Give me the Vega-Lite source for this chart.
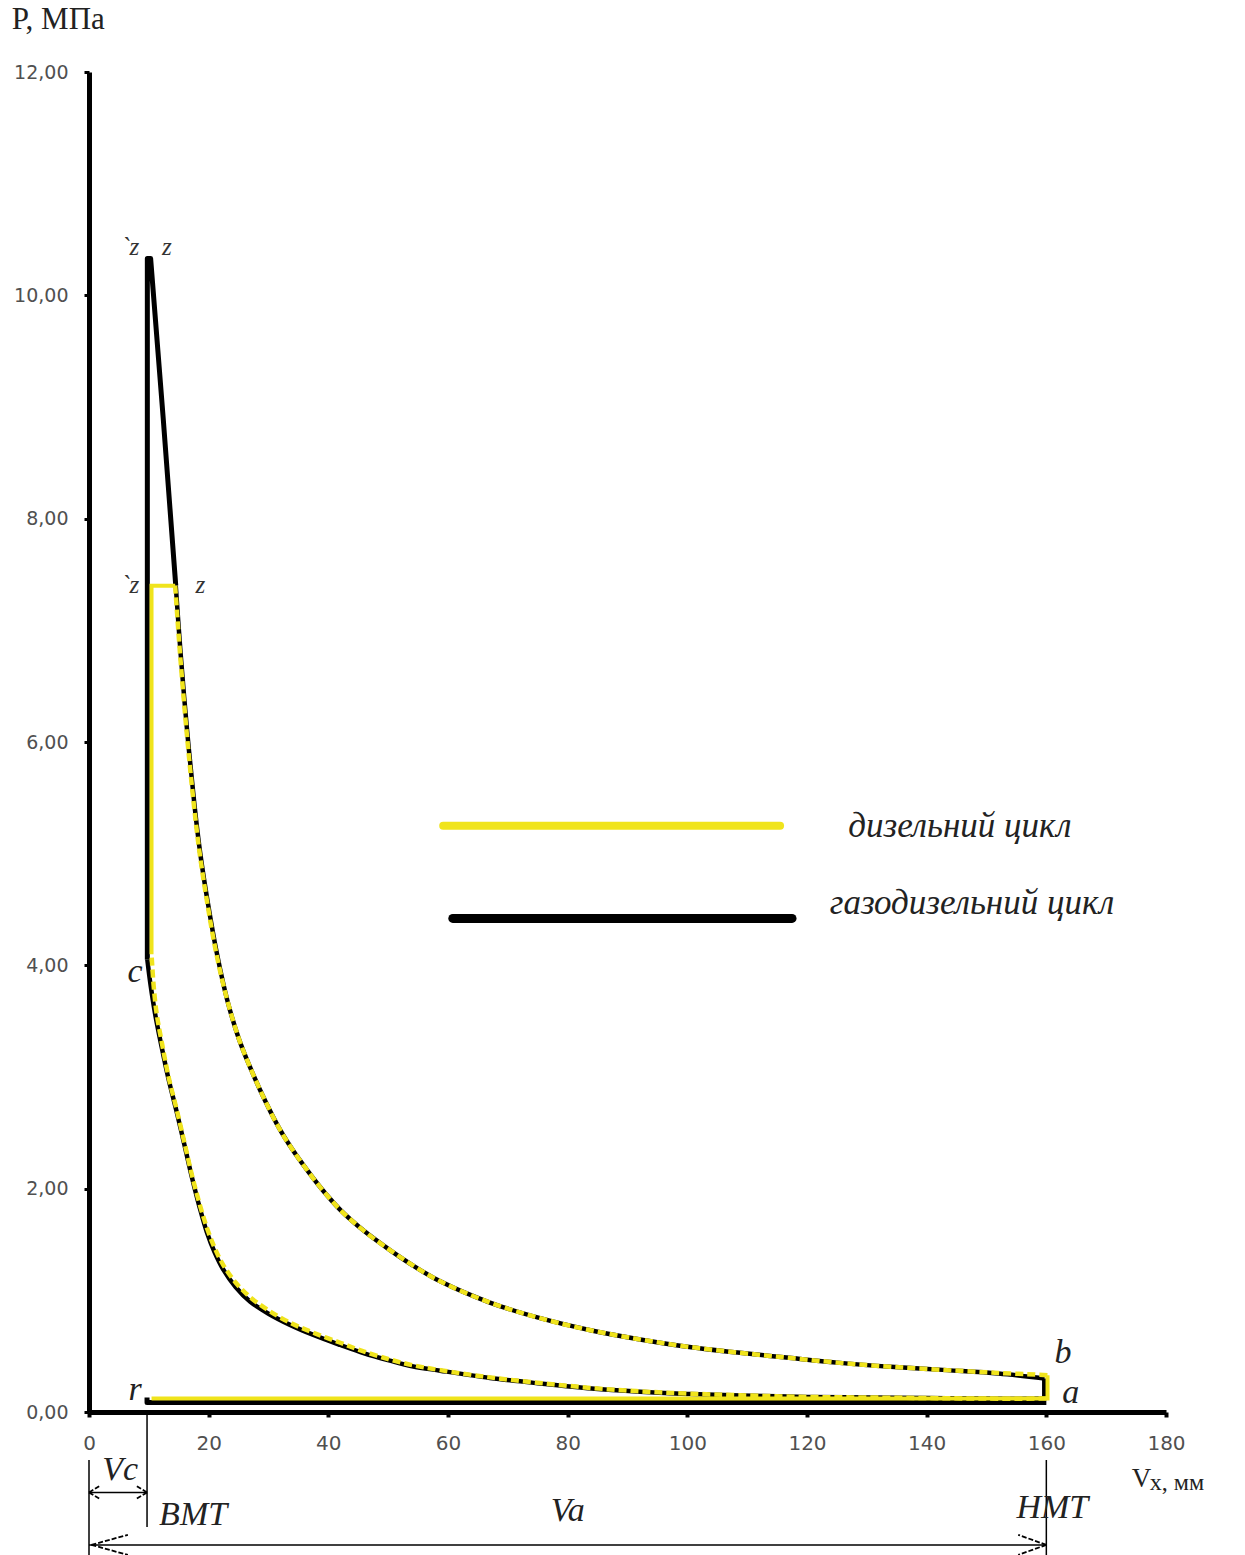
{
  "$schema": "https://vega.github.io/schema/vega-lite/v6.json",
  "width": 1077,
  "height": 1340,
  "autosize": {"type": "none"},
  "padding": {"left": 89, "top": 72, "right": 79, "bottom": 143},
  "background": "white",
  "config": {"view": {"stroke": null}},
  "datasets": {
    "yellowSolid": [
      {"s": "d_rb", "o": 1, "V": 160.2, "P": 0.33},
      {"s": "d_rb", "o": 2, "V": 160.2, "P": 0.12},
      {"s": "d_rb", "o": 3, "V": 10.45, "P": 0.12},
      {"s": "d_cz", "o": 1, "V": 10.45, "P": 4.1},
      {"s": "d_cz", "o": 2, "V": 10.45, "P": 7.4},
      {"s": "d_cz", "o": 3, "V": 14.4, "P": 7.4}
    ],
    "yellowDash": [
      {"s": "d_comp", "o": 1, "V": 160, "P": 0.12},
      {"s": "d_comp", "o": 2, "V": 150, "P": 0.12},
      {"s": "d_comp", "o": 3, "V": 140, "P": 0.125},
      {"s": "d_comp", "o": 4, "V": 130, "P": 0.13},
      {"s": "d_comp", "o": 5, "V": 120, "P": 0.135},
      {"s": "d_comp", "o": 6, "V": 108.8, "P": 0.15},
      {"s": "d_comp", "o": 7, "V": 100, "P": 0.165},
      {"s": "d_comp", "o": 8, "V": 92.1, "P": 0.185},
      {"s": "d_comp", "o": 9, "V": 84, "P": 0.215},
      {"s": "d_comp", "o": 10, "V": 75.4, "P": 0.26},
      {"s": "d_comp", "o": 11, "V": 67, "P": 0.31},
      {"s": "d_comp", "o": 12, "V": 58.7, "P": 0.375},
      {"s": "d_comp", "o": 13, "V": 54, "P": 0.42},
      {"s": "d_comp", "o": 14, "V": 50.3, "P": 0.47},
      {"s": "d_comp", "o": 15, "V": 46, "P": 0.54},
      {"s": "d_comp", "o": 16, "V": 42, "P": 0.62},
      {"s": "d_comp", "o": 17, "V": 37.5, "P": 0.71},
      {"s": "d_comp", "o": 18, "V": 33.6, "P": 0.8},
      {"s": "d_comp", "o": 19, "V": 30, "P": 0.91},
      {"s": "d_comp", "o": 20, "V": 26.9, "P": 1.03},
      {"s": "d_comp", "o": 21, "V": 24.5, "P": 1.16},
      {"s": "d_comp", "o": 22, "V": 22.4, "P": 1.32},
      {"s": "d_comp", "o": 23, "V": 21, "P": 1.47},
      {"s": "d_comp", "o": 24, "V": 19.7, "P": 1.65},
      {"s": "d_comp", "o": 25, "V": 18.5, "P": 1.86},
      {"s": "d_comp", "o": 26, "V": 17.3, "P": 2.1},
      {"s": "d_comp", "o": 27, "V": 16, "P": 2.4},
      {"s": "d_comp", "o": 28, "V": 14.6, "P": 2.72},
      {"s": "d_comp", "o": 29, "V": 13.3, "P": 3.0},
      {"s": "d_comp", "o": 30, "V": 12.2, "P": 3.3},
      {"s": "d_comp", "o": 31, "V": 11.3, "P": 3.57},
      {"s": "d_comp", "o": 32, "V": 10.8, "P": 3.82},
      {"s": "d_comp", "o": 33, "V": 10.45, "P": 4.1},
      {"s": "d_exp", "o": 1, "V": 14.4, "P": 7.4},
      {"s": "d_exp", "o": 2, "V": 15.2, "P": 6.8},
      {"s": "d_exp", "o": 3, "V": 16.3, "P": 6.1},
      {"s": "d_exp", "o": 4, "V": 17.5, "P": 5.45},
      {"s": "d_exp", "o": 5, "V": 18.5, "P": 5.0},
      {"s": "d_exp", "o": 6, "V": 19.7, "P": 4.58},
      {"s": "d_exp", "o": 7, "V": 21.3, "P": 4.1},
      {"s": "d_exp", "o": 8, "V": 23.1, "P": 3.69},
      {"s": "d_exp", "o": 9, "V": 25, "P": 3.35},
      {"s": "d_exp", "o": 10, "V": 26.9, "P": 3.09},
      {"s": "d_exp", "o": 11, "V": 29.5, "P": 2.78},
      {"s": "d_exp", "o": 12, "V": 31.9, "P": 2.53},
      {"s": "d_exp", "o": 13, "V": 34, "P": 2.35},
      {"s": "d_exp", "o": 14, "V": 36.4, "P": 2.17},
      {"s": "d_exp", "o": 15, "V": 39, "P": 1.99},
      {"s": "d_exp", "o": 16, "V": 42, "P": 1.81},
      {"s": "d_exp", "o": 17, "V": 46, "P": 1.62},
      {"s": "d_exp", "o": 18, "V": 50.3, "P": 1.45},
      {"s": "d_exp", "o": 19, "V": 54.5, "P": 1.3},
      {"s": "d_exp", "o": 20, "V": 58.7, "P": 1.17},
      {"s": "d_exp", "o": 21, "V": 67, "P": 0.98},
      {"s": "d_exp", "o": 22, "V": 75.4, "P": 0.84},
      {"s": "d_exp", "o": 23, "V": 84, "P": 0.73},
      {"s": "d_exp", "o": 24, "V": 92.1, "P": 0.65},
      {"s": "d_exp", "o": 25, "V": 100, "P": 0.585},
      {"s": "d_exp", "o": 26, "V": 108.8, "P": 0.53},
      {"s": "d_exp", "o": 27, "V": 117, "P": 0.485},
      {"s": "d_exp", "o": 28, "V": 125.5, "P": 0.44},
      {"s": "d_exp", "o": 29, "V": 134, "P": 0.405},
      {"s": "d_exp", "o": 30, "V": 143.4, "P": 0.375},
      {"s": "d_exp", "o": 31, "V": 152, "P": 0.35},
      {"s": "d_exp", "o": 32, "V": 160.2, "P": 0.33}
    ],
    "blackLinear": [
      {"s": "g_r", "o": 1, "V": 9.7, "P": 0.13},
      {"s": "g_r", "o": 2, "V": 9.7, "P": 0.085},
      {"s": "g_r", "o": 3, "V": 160, "P": 0.085},
      {"s": "g_ba", "o": 1, "V": 159.7, "P": 0.3},
      {"s": "g_ba", "o": 2, "V": 159.7, "P": 0.12},
      {"s": "g_z", "o": 1, "V": 9.75, "P": 4.05},
      {"s": "g_z", "o": 2, "V": 9.75, "P": 10.33},
      {"s": "g_z", "o": 3, "V": 10.3, "P": 10.33},
      {"s": "g_z", "o": 4, "V": 12.4, "P": 8.9},
      {"s": "g_z", "o": 5, "V": 14.5, "P": 7.4}
    ],
    "blackSmooth": [
      {"s": "g_c", "o": 1, "V": 159.7, "P": 0.12},
      {"s": "g_c", "o": 2, "V": 150, "P": 0.12},
      {"s": "g_c", "o": 3, "V": 140, "P": 0.125},
      {"s": "g_c", "o": 4, "V": 130, "P": 0.13},
      {"s": "g_c", "o": 5, "V": 120, "P": 0.135},
      {"s": "g_c", "o": 6, "V": 108.8, "P": 0.148},
      {"s": "g_c", "o": 7, "V": 100, "P": 0.162},
      {"s": "g_c", "o": 8, "V": 92.1, "P": 0.182},
      {"s": "g_c", "o": 9, "V": 84, "P": 0.21},
      {"s": "g_c", "o": 10, "V": 75.4, "P": 0.255},
      {"s": "g_c", "o": 11, "V": 67, "P": 0.305},
      {"s": "g_c", "o": 12, "V": 58.7, "P": 0.37},
      {"s": "g_c", "o": 13, "V": 54, "P": 0.41},
      {"s": "g_c", "o": 14, "V": 50.3, "P": 0.46},
      {"s": "g_c", "o": 15, "V": 46, "P": 0.525},
      {"s": "g_c", "o": 16, "V": 42, "P": 0.6},
      {"s": "g_c", "o": 17, "V": 37.5, "P": 0.69},
      {"s": "g_c", "o": 18, "V": 33.6, "P": 0.78},
      {"s": "g_c", "o": 19, "V": 30, "P": 0.88},
      {"s": "g_c", "o": 20, "V": 26.9, "P": 0.99},
      {"s": "g_c", "o": 21, "V": 24.5, "P": 1.12},
      {"s": "g_c", "o": 22, "V": 22.4, "P": 1.28},
      {"s": "g_c", "o": 23, "V": 21, "P": 1.43},
      {"s": "g_c", "o": 24, "V": 19.7, "P": 1.61},
      {"s": "g_c", "o": 25, "V": 18.5, "P": 1.83},
      {"s": "g_c", "o": 26, "V": 17.3, "P": 2.08},
      {"s": "g_c", "o": 27, "V": 16, "P": 2.38},
      {"s": "g_c", "o": 28, "V": 14.6, "P": 2.7},
      {"s": "g_c", "o": 29, "V": 13.3, "P": 2.98},
      {"s": "g_c", "o": 30, "V": 12.1, "P": 3.28},
      {"s": "g_c", "o": 31, "V": 11.1, "P": 3.55},
      {"s": "g_c", "o": 32, "V": 10.3, "P": 3.82},
      {"s": "g_c", "o": 33, "V": 9.75, "P": 4.05},
      {"s": "g_e", "o": 1, "V": 14.5, "P": 7.4},
      {"s": "g_e", "o": 2, "V": 15.3, "P": 6.8},
      {"s": "g_e", "o": 3, "V": 16.4, "P": 6.1},
      {"s": "g_e", "o": 4, "V": 17.6, "P": 5.45},
      {"s": "g_e", "o": 5, "V": 18.6, "P": 5.0},
      {"s": "g_e", "o": 6, "V": 19.8, "P": 4.58},
      {"s": "g_e", "o": 7, "V": 21.4, "P": 4.1},
      {"s": "g_e", "o": 8, "V": 23.1, "P": 3.69},
      {"s": "g_e", "o": 9, "V": 25, "P": 3.35},
      {"s": "g_e", "o": 10, "V": 26.9, "P": 3.09},
      {"s": "g_e", "o": 11, "V": 29.5, "P": 2.78},
      {"s": "g_e", "o": 12, "V": 31.9, "P": 2.53},
      {"s": "g_e", "o": 13, "V": 34, "P": 2.35},
      {"s": "g_e", "o": 14, "V": 36.4, "P": 2.17},
      {"s": "g_e", "o": 15, "V": 39, "P": 1.99},
      {"s": "g_e", "o": 16, "V": 42, "P": 1.81},
      {"s": "g_e", "o": 17, "V": 46, "P": 1.62},
      {"s": "g_e", "o": 18, "V": 50.3, "P": 1.45},
      {"s": "g_e", "o": 19, "V": 54.5, "P": 1.3},
      {"s": "g_e", "o": 20, "V": 58.7, "P": 1.17},
      {"s": "g_e", "o": 21, "V": 67, "P": 0.98},
      {"s": "g_e", "o": 22, "V": 75.4, "P": 0.84},
      {"s": "g_e", "o": 23, "V": 84, "P": 0.73},
      {"s": "g_e", "o": 24, "V": 92.1, "P": 0.65},
      {"s": "g_e", "o": 25, "V": 100, "P": 0.585},
      {"s": "g_e", "o": 26, "V": 108.8, "P": 0.53},
      {"s": "g_e", "o": 27, "V": 117, "P": 0.485},
      {"s": "g_e", "o": 28, "V": 125.5, "P": 0.44},
      {"s": "g_e", "o": 29, "V": 134, "P": 0.405},
      {"s": "g_e", "o": 30, "V": 143.4, "P": 0.375},
      {"s": "g_e", "o": 31, "V": 152, "P": 0.345},
      {"s": "g_e", "o": 32, "V": 159.7, "P": 0.3}
    ],
    "legYellow": [{"V": 59.2, "P": 5.25, "V2": 115.5, "P2": 5.25}],
    "legBlack": [{"V": 60.8, "P": 4.42, "V2": 117.5, "P2": 4.42}],
    "legText": [
      {"V": 126.9, "P": 5.25, "t": "дизельний цикл"},
      {"V": 123.8, "P": 4.56, "t": "газодизельний цикл"}
    ],
    "smallLabels": [
      {"V": 6.9, "P": 10.43, "t": "`z"},
      {"V": 13.0, "P": 10.43, "t": "z"},
      {"V": 6.9, "P": 7.41, "t": "`z"},
      {"V": 18.6, "P": 7.41, "t": "z"}
    ],
    "bigLabels": [
      {"V": 7.7, "P": 3.94, "t": "c"},
      {"V": 7.7, "P": 0.2, "t": "r"},
      {"V": 162.8, "P": 0.53, "t": "b"},
      {"V": 164.1, "P": 0.17, "t": "a"},
      {"V": 5.2, "P": -0.52, "t": "Vc"},
      {"V": 17.4, "P": -0.92, "t": "ВМТ"},
      {"V": 80, "P": -0.89, "t": "Va"},
      {"V": 161, "P": -0.86, "t": "НМТ"}
    ],
    "thinRules": [
      {"V": 0, "P": -0.43, "V2": 0, "P2": -1.3},
      {"V": 9.7, "P": 0, "V2": 9.7, "P2": -1.03},
      {"V": 160, "P": -0.43, "V2": 160, "P2": -1.3},
      {"V": 0, "P": -0.72, "V2": 9.7, "P2": -0.72},
      {"V": 0, "P": -1.19, "V2": 160, "P2": -1.19}
    ],
    "chevrons": [
      {"V": 0, "P": -0.72, "V2": 1.7, "P2": -0.665},
      {"V": 0, "P": -0.72, "V2": 1.7, "P2": -0.775},
      {"V": 9.7, "P": -0.72, "V2": 8.0, "P2": -0.665},
      {"V": 9.7, "P": -0.72, "V2": 8.0, "P2": -0.775},
      {"V": 0.4, "P": -1.19, "V2": 6.5, "P2": -1.1},
      {"V": 0.4, "P": -1.19, "V2": 6.5, "P2": -1.28},
      {"V": 160, "P": -1.19, "V2": 155.3, "P2": -1.1},
      {"V": 160, "P": -1.19, "V2": 155.3, "P2": -1.28}
    ],
    "titleP": [{"V": -12.9, "P": 12.47, "t": "P, МПа"}],
    "titleV": [{"V": 175.9, "P": -0.6, "t": "V"}],
    "titleVsub": [{"V": 177.3, "P": -0.64, "t": "x, мм"}]
  },
  "encoding": {
    "x": {
      "field": "V",
      "type": "quantitative",
      "scale": {"domain": [0, 180], "nice": false, "zero": false},
      "axis": {
        "title": null,
        "values": [0, 20, 40, 60, 80, 100, 120, 140, 160, 180],
        "grid": false,
        "domainColor": "black",
        "domainWidth": 5,
        "tickColor": "black",
        "tickWidth": 4,
        "tickSize": 5,
        "labelFont": "DejaVu Sans",
        "labelFontSize": 20,
        "labelColor": "#505050",
        "labelPadding": 16,
        "labelFlush": false
      }
    },
    "y": {
      "field": "P",
      "type": "quantitative",
      "scale": {"domain": [0, 12], "nice": false, "zero": false},
      "axis": {
        "title": null,
        "values": [0, 2, 4, 6, 8, 10, 12],
        "labelExpr": "replace(format(datum.value, '.2f'), '.', ',')",
        "grid": false,
        "domainColor": "black",
        "domainWidth": 5,
        "tickColor": "black",
        "tickWidth": 3,
        "tickSize": 5,
        "labelFont": "DejaVu Sans",
        "labelFontSize": 19,
        "labelColor": "#505050",
        "labelPadding": 16,
        "labelFlush": false
      }
    }
  },
  "layer": [
    {
      "data": {"name": "blackLinear"},
      "mark": {"type": "line", "color": "black", "strokeWidth": 5, "strokeJoin": "round"},
      "encoding": {"order": {"field": "o"}, "detail": {"field": "s"}}
    },
    {
      "data": {"name": "blackSmooth"},
      "mark": {"type": "line", "color": "black", "strokeWidth": 4.5, "strokeJoin": "round", "interpolate": "catmull-rom"},
      "encoding": {"order": {"field": "o"}, "detail": {"field": "s"}}
    },
    {
      "data": {"name": "yellowSolid"},
      "mark": {"type": "line", "color": "#f0e41c", "strokeWidth": 4, "strokeJoin": "miter"},
      "encoding": {"order": {"field": "o"}, "detail": {"field": "s"}}
    },
    {
      "data": {"name": "yellowDash"},
      "mark": {"type": "line", "color": "#f0e41c", "strokeWidth": 4.5, "strokeDash": [8, 4], "interpolate": "catmull-rom"},
      "encoding": {"order": {"field": "o"}, "detail": {"field": "s"}}
    },
    {
      "data": {"name": "legYellow"},
      "mark": {"type": "rule", "color": "#f0e41c", "strokeWidth": 8, "strokeCap": "round"},
      "encoding": {"x2": {"field": "V2"}, "y2": {"field": "P2"}}
    },
    {
      "data": {"name": "legBlack"},
      "mark": {"type": "rule", "color": "black", "strokeWidth": 9, "strokeCap": "round"},
      "encoding": {"x2": {"field": "V2"}, "y2": {"field": "P2"}}
    },
    {
      "data": {"name": "thinRules"},
      "mark": {"type": "rule", "color": "black", "strokeWidth": 1.5},
      "encoding": {"x2": {"field": "V2"}, "y2": {"field": "P2"}}
    },
    {
      "data": {"name": "chevrons"},
      "mark": {"type": "rule", "color": "black", "strokeWidth": 1.8, "strokeDash": [5, 2]},
      "encoding": {"x2": {"field": "V2"}, "y2": {"field": "P2"}}
    },
    {
      "data": {"name": "legText"},
      "mark": {"type": "text", "align": "left", "baseline": "middle", "font": "Liberation Serif", "fontStyle": "italic", "fontSize": 35, "color": "#222222"},
      "encoding": {"text": {"field": "t"}}
    },
    {
      "data": {"name": "smallLabels"},
      "mark": {"type": "text", "align": "center", "baseline": "middle", "font": "Liberation Serif", "fontStyle": "italic", "fontSize": 25, "color": "#333333"},
      "encoding": {"text": {"field": "t"}}
    },
    {
      "data": {"name": "bigLabels"},
      "mark": {"type": "text", "align": "center", "baseline": "middle", "font": "Liberation Serif", "fontStyle": "italic", "fontSize": 34, "color": "#222222"},
      "encoding": {"text": {"field": "t"}}
    },
    {
      "data": {"name": "titleP"},
      "mark": {"type": "text", "align": "left", "baseline": "middle", "font": "Liberation Serif", "fontSize": 31, "color": "#222222"},
      "encoding": {"text": {"field": "t"}}
    },
    {
      "data": {"name": "titleV"},
      "mark": {"type": "text", "align": "center", "baseline": "middle", "font": "Liberation Serif", "fontSize": 27, "color": "#222222"},
      "encoding": {"text": {"field": "t"}}
    },
    {
      "data": {"name": "titleVsub"},
      "mark": {"type": "text", "align": "left", "baseline": "middle", "font": "Liberation Serif", "fontSize": 24, "color": "#222222"},
      "encoding": {"text": {"field": "t"}}
    }
  ]
}
